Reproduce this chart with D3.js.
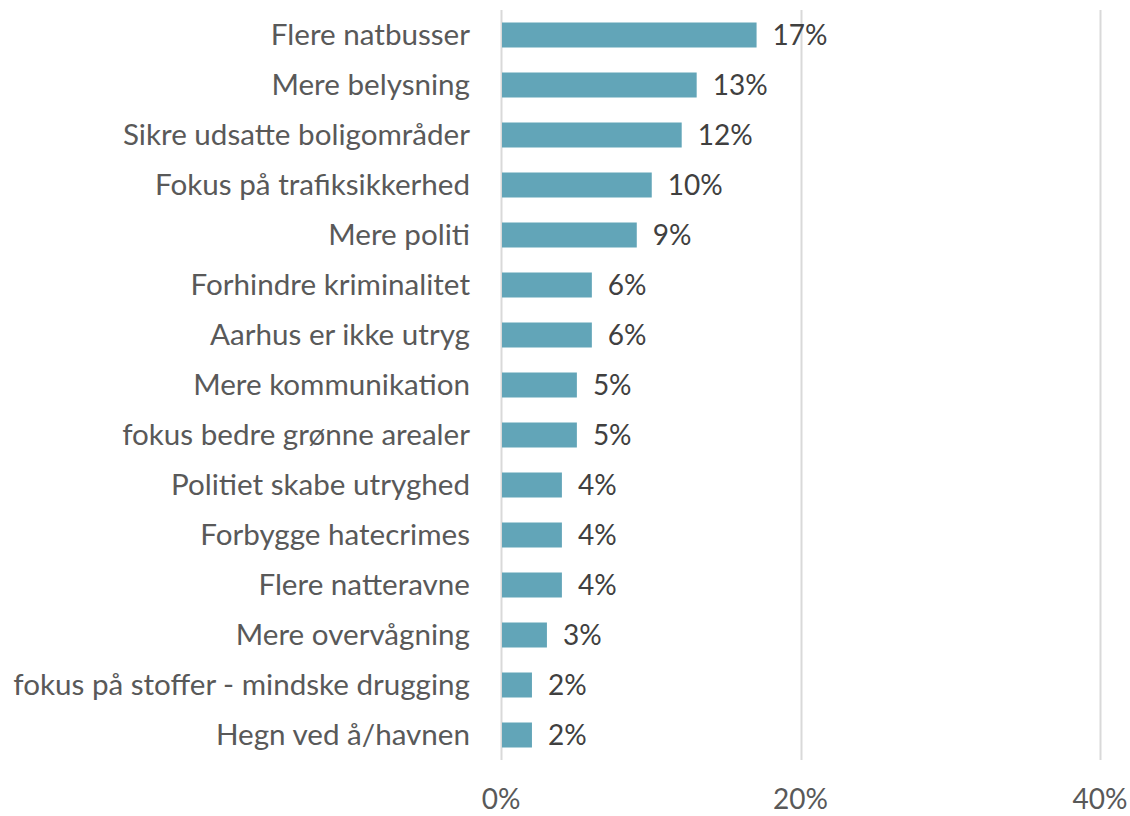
<!DOCTYPE html>
<html>
<head>
<meta charset="utf-8">
<script src="https://cdn.jsdelivr.net/npm/d3@7"></script>
<style>
  body { margin: 0; background: #fff; }
  text { font-family: Lato, "Open Sans", sans-serif; }
</style>
</head>
<body>
<div id="bar_chart"></div>
<script>
const categories = [
  'Flere natbusser',
  'Mere belysning',
  'Sikre udsatte boligområder',
  'Fokus på trafiksikkerhed',
  'Mere politi',
  'Forhindre kriminalitet',
  'Aarhus er ikke utryg',
  'Mere kommunikation',
  'fokus bedre grønne arealer',
  'Politiet skabe utryghed',
  'Forbygge hatecrimes',
  'Flere natteravne',
  'Mere overvågning',
  'fokus på stoffer - mindske drugging',
  'Hegn ved å/havnen',
];
const values = [17, 13, 12, 10, 9, 6, 6, 5, 5, 4, 4, 4, 3, 2, 2];
const xTicks = [0, 20, 40];

const width = 1130, height = 816;
const margin = { top: 10, right: 30, bottom: 56, left: 501 };

const svg = d3.select('#bar_chart')
  .append('svg')
  .attr('width', width)
  .attr('height', height);

const data = categories.map((c, i) => ({ label: c, value: values[i] }));

//scales
const xScale = d3.scaleLinear()
  .domain([0, 40])
  .range([margin.left, width - margin.right]);

const yScale = d3.scaleBand()
  .domain(categories)
  .range([margin.top, height - margin.bottom])
  .paddingInner(0.5)
  .paddingOuter(0.25);

// vertical gridlines (0% acts as the axis line)
svg.append('g')
  .selectAll('line')
  .data(xTicks)
  .join('line')
  .attr('x1', d => Math.round(xScale(d)) + 0.5)
  .attr('x2', d => Math.round(xScale(d)) + 0.5)
  .attr('y1', margin.top)
  .attr('y2', height - margin.bottom)
  .attr('stroke', '#d9d9d9')
  .attr('stroke-width', 2);

// x tick labels
svg.append('g')
  .selectAll('text')
  .data(xTicks)
  .join('text')
  .attr('x', d => xScale(d))
  .attr('y', 809)
  .attr('text-anchor', 'middle')
  .attr('fill', '#595959')
  .attr('font-size', 28)
  .text(d => d + '%');

// bars
svg.append('g')
  .selectAll('rect')
  .data(data)
  .join('rect')
  .attr('x', xScale(0) + 1)
  .attr('y', d => yScale(d.label))
  .attr('width', d => xScale(d.value) - xScale(0))
  .attr('height', yScale.bandwidth())
  .attr('fill', '#62a5b8');

// category labels
svg.append('g')
  .selectAll('text')
  .data(data)
  .join('text')
  .attr('x', 470)
  .attr('y', d => yScale(d.label) + yScale.bandwidth() / 2)
  .attr('dy', '0.35em')
  .attr('text-anchor', 'end')
  .attr('fill', '#595959')
  .attr('font-size', 29.6)
  .text(d => d.label);

// value labels
svg.append('g')
  .selectAll('text')
  .data(data)
  .join('text')
  .attr('x', d => xScale(d.value) + 17)
  .attr('y', d => yScale(d.label) + yScale.bandwidth() / 2)
  .attr('dy', '0.35em')
  .attr('fill', '#404040')
  .attr('font-size', 28)
  .text(d => d.value + '%');
</script>
</body>
</html>
